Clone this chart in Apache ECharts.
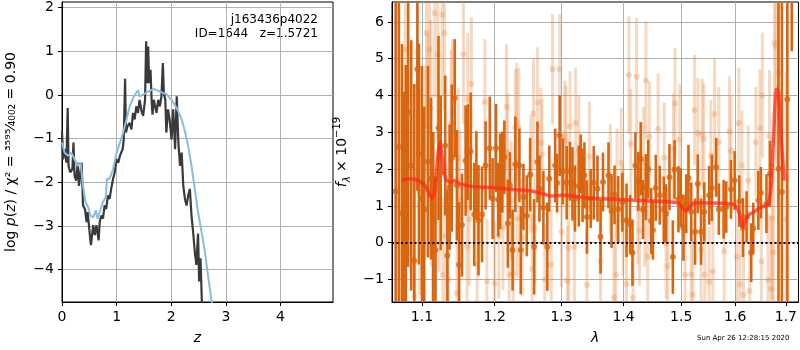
<!DOCTYPE html>
<html>
<head>
<meta charset="utf-8">
<script src="https://cdn.jsdelivr.net/npm/echarts@6/dist/echarts.min.js"></script>
<style>
  html, body { margin: 0; padding: 0; background: #fff; }
  #chart { width: 800px; height: 350px; }
</style>
</head>
<body>
<div id="chart"></div>
<script>
// left panel: log p(z)
const zBlack = [0, 0.02, 0.055, 0.08, 0.104, 0.12, 0.15, 0.19, 0.21, 0.23, 0.26, 0.29, 0.31, 0.34, 0.36, 0.385, 0.42, 0.45, 0.47, 0.51, 0.53, 0.57, 0.60, 0.63, 0.67, 0.69, 0.72, 0.75, 0.78, 0.81, 0.84, 0.87, 0.90, 0.935, 0.965, 0.996, 1.03, 1.06, 1.11, 1.13, 1.155, 1.17, 1.20, 1.24, 1.27, 1.30, 1.33, 1.36, 1.39, 1.42, 1.455, 1.485, 1.52, 1.54, 1.56, 1.577, 1.595, 1.62, 1.64, 1.656, 1.68, 1.705, 1.73, 1.76, 1.79, 1.82, 1.846, 1.864, 1.89, 1.91, 1.94, 1.97, 2.005, 2.035, 2.07, 2.10, 2.13, 2.16, 2.19, 2.22, 2.25, 2.28, 2.31, 2.34, 2.37, 2.40, 2.43, 2.46, 2.49, 2.51, 2.535, 2.56, 2.60];
const pzBlack = [-0.83, -1.47, -1.24, -1.55, -0.30, -1.62, -1.77, -1.70, -1.09, -1.85, -1.96, -1.55, -2.08, -1.77, -1.55, -2.53, -2.61, -2.91, -2.68, -3.21, -3.44, -2.98, -3.21, -2.98, -3.33, -2.91, -2.76, -2.83, -2.53, -2.61, -2.30, -2.38, -2.15, -1.92, -1.77, -1.47, -1.55, -1.39, -1.24, -1.02, 0.37, -0.86, -0.71, -0.64, -0.79, -0.41, -0.56, -0.26, -0.41, -0.11, -0.37, -0.48, -0.11, 1.23, 0.27, 1.11, 0.27, 0.58, -0.11, -0.45, -0.11, -0.26, -0.41, -0.11, -0.26, -0.03, 0.73, 0.05, -0.11, -0.86, -0.33, -0.56, -1.02, -0.33, -1.24, -0.03, -1.09, -1.62, -1.32, -2.08, -2.38, -2.53, -2.30, -2.15, -2.76, -3.14, -3.59, -3.89, -3.17, -4.27, -3.74, -4.74, -5.5];
const zBlue = [0, 0.05, 0.11, 0.17, 0.23, 0.29, 0.34, 0.385, 0.43, 0.48, 0.52, 0.57, 0.62, 0.65, 0.69, 0.75, 0.80, 0.825, 0.87, 0.935, 1.00, 1.06, 1.12, 1.18, 1.24, 1.30, 1.36, 1.39, 1.42, 1.485, 1.577, 1.68, 1.79, 1.91, 2.005, 2.10, 2.19, 2.25, 2.31, 2.37, 2.43, 2.49, 2.555, 2.616, 2.68, 2.74, 2.80];
const pzBlue = [-1.09, -1.32, -1.39, -1.32, -1.47, -1.62, -1.55, -2.08, -2.45, -2.57, -2.76, -2.80, -2.64, -2.83, -2.68, -2.45, -2.34, -1.92, -1.92, -1.70, -1.32, -1.09, -0.86, -0.56, -0.26, -0.07, 0.05, 0.11, -0.03, 0.01, 0.08, 0.14, 0.08, 0.02, -0.11, -0.30, -0.56, -0.83, -1.17, -1.62, -2.15, -2.68, -3.14, -3.59, -4.20, -4.74, -5.3];
const zTicks = [0, 1, 2, 3, 4];
const logpTicks = [-4, -3, -2, -1, 0, 1, 2];

// right panel: spectrum
const lamDark = [1.066, 1.070, 1.074, 1.077, 1.079, 1.082, 1.086, 1.090, 1.094, 1.096, 1.100, 1.103, 1.108, 1.112, 1.115, 1.118, 1.122, 1.125, 1.131, 1.134, 1.137, 1.140, 1.144, 1.147, 1.150, 1.154, 1.159, 1.162, 1.166, 1.171, 1.174, 1.177, 1.182, 1.187, 1.193, 1.197,
  1.202, 1.205, 1.208, 1.211, 1.214, 1.219, 1.222, 1.226, 1.230, 1.236, 1.238, 1.242, 1.247, 1.252, 1.258, 1.263, 1.266, 1.272, 1.278, 1.281, 1.290, 1.293, 1.297, 1.302, 1.308, 1.313, 1.317, 1.321, 1.327, 1.330, 1.333, 1.336, 1.340, 1.346, 1.351,
  1.357, 1.362, 1.366, 1.375, 1.380, 1.385, 1.391, 1.398, 1.405, 1.411, 1.415, 1.420, 1.425, 1.429, 1.433, 1.438, 1.442, 1.447, 1.450, 1.455, 1.462, 1.469, 1.473, 1.479, 1.485, 1.488, 1.495, 1.499, 1.504, 1.509, 1.513, 1.518, 1.525, 1.530,
  1.536, 1.542, 1.551, 1.556, 1.564, 1.569, 1.578, 1.583, 1.592, 1.599, 1.608, 1.615, 1.622, 1.631, 1.635, 1.645, 1.650, 1.661, 1.668, 1.685, 1.692, 1.703, 1.712];
const fluxDark = [1.40, 2.60, 0.80, 0.30, 0.43, 3.54, 2.10, -0.49, 4.71, 2.41, 1.20, 0.90, 2.20, 1.74, 0.61, -0.20, 3.12, 1.90, 2.64, -0.35, 1.51, 2.30, 3.93, 1.56, -0.60, 0.48, 2.23, 2.46, 2.48, 0.77, 1.83, 0.61, 0.77, 2.10, 2.57, 1.20,
  2.57, 1.17, 1.67, 1.92, 2.32, 0.52, 1.56, -0.20, 2.13, 2.10, -0.20, 1.24, 0.73, 1.85, -0.11, 2.19, 1.47, 0.95, -0.11, 1.74, 2.10, 1.62, 2.91, 1.94, 1.63, 1.94, 1.60, 1.20, 1.54, 2.14, 1.56, 1.83, 0.70, 1.20, 1.63,
  1.47, 0.16, 1.65, 1.83, 0.86, 1.30, 0.91, 1.10, 0.61, 0.50, -0.27, 2.10, 1.67, 2.28, 0.90, 1.51, 2.00, 0.59, 0.34, 1.49, 1.29, 0.90, 0.79, 1.78, -0.39, 1.99, 1.18, 1.22, 0.41, 1.06, 1.76, 0.84, 0.30, 1.60,
  0.30, 0.84, 1.29, 1.49, 2.05, 0.91, 0.91, 0.97, 1.45, 1.69, 1.13, 0.41, 0.70, -0.27, 0.39, 1.15, 1.36, 1.06, 1.87, 2.01, 1.38, 3.90, 9.00];
const errDark = [6.0, 5.5, 4.6, 3.8, 4.4, 4.2, 3.4, 4.8, 3.3, 3.0, 3.6, 2.8, 2.6, 2.2, 2.4, 2.0, 2.5, 2.1, 1.9, 1.8, 1.7, 2.0, 1.6, 1.5, 1.7, 1.4, 1.5, 1.3, 1.6, 1.4, 1.2, 1.5, 1.3, 1.2, 1.4, 1.1,
  1.2, 1.0, 1.3, 1.1, 1.0, 1.2, 0.9, 1.1, 1.3, 1.0, 1.2, 0.9, 1.1, 1.0, 1.3, 1.1, 0.9, 1.0, 1.2, 0.9, 1.0, 0.8, 1.1, 0.9, 1.0, 0.8, 1.0, 0.9, 1.1, 0.8, 1.0, 0.9, 1.0, 0.8, 1.0,
  0.9, 1.0, 0.8, 0.9, 1.0, 0.8, 0.9, 0.8, 1.0, 0.8, 0.9, 0.9, 0.8, 1.0, 0.8, 0.9, 0.8, 0.9, 0.8, 0.9, 0.8, 0.9, 0.8, 0.9, 1.0, 0.8, 0.9, 0.8, 0.9, 0.8, 0.9, 0.8, 0.9, 0.8,
  0.9, 0.8, 0.8, 0.9, 0.8, 0.7, 0.8, 0.7, 0.8, 0.8, 0.7, 0.8, 0.7, 0.8, 0.7, 0.8, 0.7, 0.8, 0.9, 4.5, 5.2, 5.5, 3.8];

const lamLight = [1.078, 1.090, 1.094, 1.097, 1.104, 1.106, 1.108, 1.110, 1.112, 1.114, 1.117, 1.121, 1.123, 1.127, 1.128, 1.130, 1.132, 1.135, 1.139, 1.141, 1.147, 1.149, 1.151, 1.156, 1.161, 1.162, 1.164, 1.167, 1.175, 1.186, 1.189,
  1.200, 1.206, 1.212, 1.217, 1.219, 1.221, 1.224, 1.227, 1.230, 1.232, 1.233, 1.235, 1.240, 1.253, 1.255, 1.257, 1.259, 1.263, 1.268, 1.270, 1.274, 1.284, 1.286, 1.297, 1.300, 1.305, 1.307, 1.309, 1.311, 1.313, 1.320, 1.322, 1.327, 1.340, 1.344,
  1.362, 1.378, 1.384, 1.387, 1.389, 1.396, 1.399, 1.405, 1.409, 1.412, 1.416, 1.422, 1.424, 1.427, 1.434, 1.436, 1.438, 1.441, 1.444, 1.459, 1.470, 1.473, 1.476, 1.486, 1.489, 1.497, 1.507, 1.518, 1.521, 1.524, 1.530,
  1.536, 1.538, 1.541, 1.543, 1.551, 1.554, 1.558, 1.561, 1.569, 1.579, 1.589, 1.592, 1.603, 1.607, 1.609, 1.613, 1.616, 1.625, 1.628, 1.640, 1.648, 1.651, 1.653, 1.664, 1.667, 1.670, 1.672, 1.675, 1.677, 1.680, 1.685, 1.700];
const fluxLight = [5.25, -1.46, 5.16, 1.38, 2.21, 5.70, 3.18, 5.25, 3.65, -0.56, 6.24, 5.12, 1.42, 6.20, -0.87, 5.70, 0.18, -1.01, 3.23, 3.54, -1.37, 2.30, 1.15, 5.12, -0.11, 3.90, 0.64, 4.32, -0.60, 3.83, -1.05,
  -1.10, 0.18, 0.41, 3.69, 2.46, -0.87, 1.15, -0.83, 3.12, 3.29, 0.66, 3.14, 0.14, 1.87, -0.72, 3.51, 0.39, 3.81, 2.71, 2.40, -0.99, -0.60, 4.71, 4.71, 0.30, 2.91, 2.77, -1.04, -0.14, 3.16, -0.11, 3.25, 2.50, -1.14, 2.34,
  -0.51, 1.72, -1.49, -0.87, 1.60, 2.17, 0.61, -1.12, 4.55, 2.68, -1.49, 4.51, 0.91, 0.34, 2.19, 0.84, 4.41, -0.38, 2.88, 3.09, 2.31, -0.02, -0.63, 2.55, 3.79, 2.80, -0.87, -0.86, -1.41, 3.60, 2.98,
  -0.20, 2.95, 2.82, -0.87, -1.07, 2.37, -0.78, 3.50, 2.73, -0.23, 3.02, 2.50, -0.38, 3.25, -1.13, 2.10, -1.41, 1.69, -1.31, 2.73, 3.11, -0.51, 4.01, -1.01, 2.89, -1.26, 0.66, -0.26, 5.43, 5.34, 4.62, 0.64];
const errLight = [3.0, 3.0, 2.8, 2.8, 2.6, 2.6, 2.5, 2.5, 2.4, 2.4, 2.3, 2.3, 2.2, 2.2, 2.1, 2.1, 2.0, 2.0, 2.0, 2.0, 1.9, 1.9, 1.9, 1.9, 1.8, 1.8, 1.8, 1.8, 1.8, 1.7, 1.7,
  1.7, 1.7, 1.7, 1.7, 1.6, 1.6, 1.6, 1.6, 1.6, 1.6, 1.6, 1.6, 1.6, 1.6, 1.5, 1.5, 1.5, 1.5, 1.5, 1.5, 1.5, 1.5, 1.5, 1.5, 1.5, 1.5, 1.5, 1.5, 1.5, 1.5, 1.5, 1.5, 1.5, 1.5, 1.5,
  1.5, 1.5, 1.5, 1.5, 1.5, 1.5, 1.5, 1.5, 1.6, 1.5, 1.5, 1.6, 1.5, 1.5, 1.5, 1.5, 1.6, 1.5, 1.5, 1.5, 1.5, 1.5, 1.5, 1.5, 1.5, 1.5, 1.5, 1.5, 1.5, 1.5, 1.5,
  1.5, 1.5, 1.5, 1.5, 1.5, 1.5, 1.5, 1.5, 1.5, 1.5, 1.5, 1.5, 1.5, 1.5, 1.5, 1.5, 1.5, 1.5, 1.5, 1.5, 1.6, 1.6, 1.7, 1.8, 1.8, 2.0, 2.2, 2.4, 2.8, 3.2, 3.6, 4.0];

const lamModel = [1.0737, 1.0844, 1.0951, 1.1040, 1.1106, 1.1136, 1.1172, 1.1208, 1.1239, 1.1275, 1.1316, 1.1374, 1.1442, 1.1511, 1.1694, 1.2026, 1.2317, 1.2513, 1.2714, 1.2842, 1.3021, 1.3335, 1.3550, 1.3987, 1.4383, 1.4789, 1.4936, 1.5014, 1.5086, 1.5146, 1.5236, 1.5574, 1.5950, 1.6027, 1.6091, 1.6142, 1.6193, 1.6258, 1.6369, 1.6500, 1.6631, 1.6698, 1.6750, 1.6811, 1.6851, 1.6912, 1.6966];
const fluxModel = [1.69, 1.74, 1.69, 1.56, 1.29, 1.20, 1.47, 2.28, 2.73, 2.28, 1.74, 1.65, 1.69, 1.60, 1.53, 1.49, 1.44, 1.41, 1.33, 1.27, 1.29, 1.23, 1.20, 1.17, 1.14, 1.11, 1.08, 0.97, 0.86, 0.97, 1.08, 1.08, 1.05, 0.97, 0.75, 0.43, 0.59, 0.75, 0.84, 0.97, 1.02, 1.47, 2.82, 4.17, 4.08, 2.73, 1.69];
const lamTicks = [1.1, 1.2, 1.3, 1.4, 1.5, 1.6, 1.7];
const fluxTicks = [-1, 0, 1, 2, 3, 4, 5, 6];

const font = "DejaVu Sans";
const minus = v => String(v).replace("-", "\u2212");
const ln = Math.log;

const darkOrange = "#d9650f";
const lightOrange = "rgba(232, 140, 70, 0.33)";
const lightDot = "rgba(232, 140, 70, 0.4)";

function errBars(lam, flux, err) {
    return lam.map((l, i) => [ln(l), flux[i], err[i]]);
}
function barRenderer(color, width) {
    return function (params, api) {
        const x = api.value(0), y = api.value(1), e = api.value(2);
        const lo = api.coord([x, y - e]);
        const hi = api.coord([x, y + e]);
        return {
            type: "line",
            shape: { x1: lo[0], y1: lo[1], x2: hi[0], y2: hi[1] },
            style: { stroke: color, lineWidth: width }
        };
    };
}

function baseX(gridIndex, min, max, ticks, fmt) {
    return {
        type: "value", gridIndex, min, max,
        axisLine: { show: true, onZero: false, lineStyle: { color: "#000", width: 1 } },
        axisTick: { show: true, length: 4, customValues: ticks, lineStyle: { color: "#000" } },
        axisLabel: { customValues: ticks, formatter: fmt, color: "#000", fontFamily: font, fontSize: 14, margin: 8 },
        splitLine: { show: true, lineStyle: { color: "#b0b0b0", width: 1 } }
    };
}
function baseY(gridIndex, min, max, ticks) {
    return {
        type: "value", gridIndex, min, max,
        axisLine: { show: true, onZero: false, lineStyle: { color: "#000", width: 1 } },
        axisTick: { show: true, length: 4, customValues: ticks, lineStyle: { color: "#000" } },
        axisLabel: { customValues: ticks, formatter: v => minus(v), color: "#000", fontFamily: font, fontSize: 14, margin: 8 },
        splitLine: { show: true, lineStyle: { color: "#b0b0b0", width: 1 } }
    };
}

const chart = echarts.init(document.getElementById("chart"), null, { renderer: "canvas" });

const x0 = baseX(0, 0, 4.96, zTicks, v => minus(v));
x0.name = "z";
x0.nameLocation = "middle";
x0.nameGap = 29;
x0.nameTextStyle = { fontFamily: font, fontSize: 14, fontStyle: "italic", color: "#000" };

const x1 = baseX(1, ln(1.0613), ln(1.7258), lamTicks.map(ln), v => Math.exp(v).toFixed(1));
x1.name = "λ";
x1.nameLocation = "middle";
x1.nameGap = 29;
x1.nameTextStyle = { fontFamily: font, fontSize: 14, fontStyle: "italic", color: "#000" };

const y0 = baseY(0, -4.74, 2.13, logpTicks);
y0.name = "{n|log }{i|p}{n|(}{i|z}{n|) / χ² = ³⁵⁹⁵⁄₄₀₀₂ = 0.90}";
y0.nameLocation = "middle";
y0.nameGap = 44;
y0.nameRotate = 90;
y0.nameTextStyle = {
    fontFamily: font, fontSize: 14, color: "#000",
    rich: {
        n: { fontFamily: font, fontSize: 14, color: "#000" },
        i: { fontFamily: font, fontSize: 14, fontStyle: "italic", color: "#000" }
    }
};

const y1 = baseY(1, -1.61, 6.54, fluxTicks);
y1.name = "{i|f}{s|λ}{n| × 10}{p|−19}";
y1.nameLocation = "middle";
y1.nameGap = 40;
y1.nameRotate = 90;
y1.nameTextStyle = {
    fontFamily: font, fontSize: 14, color: "#000",
    rich: {
        n: { fontFamily: font, fontSize: 14, color: "#000", lineHeight: 20 },
        i: { fontFamily: font, fontSize: 14, fontStyle: "italic", color: "#000", lineHeight: 20 },
        s: { fontFamily: font, fontSize: 10, fontStyle: "italic", color: "#000", verticalAlign: "bottom", lineHeight: 20 },
        p: { fontFamily: font, fontSize: 10, color: "#000", verticalAlign: "top", lineHeight: 20 }
    }
};

chart.setOption({
    animation: false,
    backgroundColor: "#fff",
    grid: [
        { left: 62, top: 2, width: 271, height: 302, show: true, borderColor: "#000", borderWidth: 1 },
        { left: 392, top: 2, width: 407, height: 302, show: true, borderColor: "#000", borderWidth: 1 }
    ],
    xAxis: [x0, x1],
    yAxis: [y0, y1],
    graphic: [
        { type: "text", right: 482, top: 14, style: { text: "j163436p4022", font: "12px DejaVu Sans", fill: "#000", textAlign: "right" } },
        { type: "text", right: 482, top: 28, style: { text: "ID=1644   z=1.5721", font: "12px DejaVu Sans", fill: "#000", textAlign: "right" } },
        { type: "text", left: 697, top: 335, style: { text: "Sun Apr 26 12:28:15 2020", font: "7px DejaVu Sans", fill: "#000" } }
    ],
    series: [
        {
            type: "line", xAxisIndex: 0, yAxisIndex: 0, symbol: "none", clip: true,
            data: zBlue.map((z, i) => [z, pzBlue[i]]),
            lineStyle: { color: "#8bbbdd", width: 2 }, z: 3
        },
        {
            type: "line", xAxisIndex: 0, yAxisIndex: 0, symbol: "none", clip: true,
            data: zBlack.map((z, i) => [z, pzBlack[i]]),
            lineStyle: { color: "#3a3a3a", width: 2.2 }, z: 2
        },
        {
            type: "custom", xAxisIndex: 1, yAxisIndex: 1, clip: true,
            renderItem: barRenderer(lightOrange, 3),
            data: errBars(lamLight, fluxLight, errLight), z: 2
        },
        {
            type: "scatter", xAxisIndex: 1, yAxisIndex: 1, symbolSize: 6,
            itemStyle: { color: lightDot },
            data: lamLight.map((l, i) => [ln(l), fluxLight[i]]), z: 2
        },
        {
            type: "custom", xAxisIndex: 1, yAxisIndex: 1, clip: true,
            renderItem: barRenderer(darkOrange, 2.6),
            data: errBars(lamDark, fluxDark, errDark), z: 3
        },
        {
            type: "scatter", xAxisIndex: 1, yAxisIndex: 1, symbolSize: 6,
            itemStyle: { color: darkOrange },
            data: lamDark.map((l, i) => [ln(l), fluxDark[i]]), z: 3
        },
        {
            type: "line", xAxisIndex: 1, yAxisIndex: 1, symbol: "none", smooth: 0.3, clip: true,
            data: lamModel.map((l, i) => [ln(l), fluxModel[i]]),
            lineStyle: { color: "#ff2a1a", width: 3.5, opacity: 0.75 }, z: 4,
            markLine: {
                silent: true, symbol: "none", label: { show: false },
                lineStyle: { color: "#000", width: 2, type: [2, 2.5], opacity: 1 },
                data: [{ yAxis: 0 }]
            }
        }
    ]
});
</script>
</body>
</html>
